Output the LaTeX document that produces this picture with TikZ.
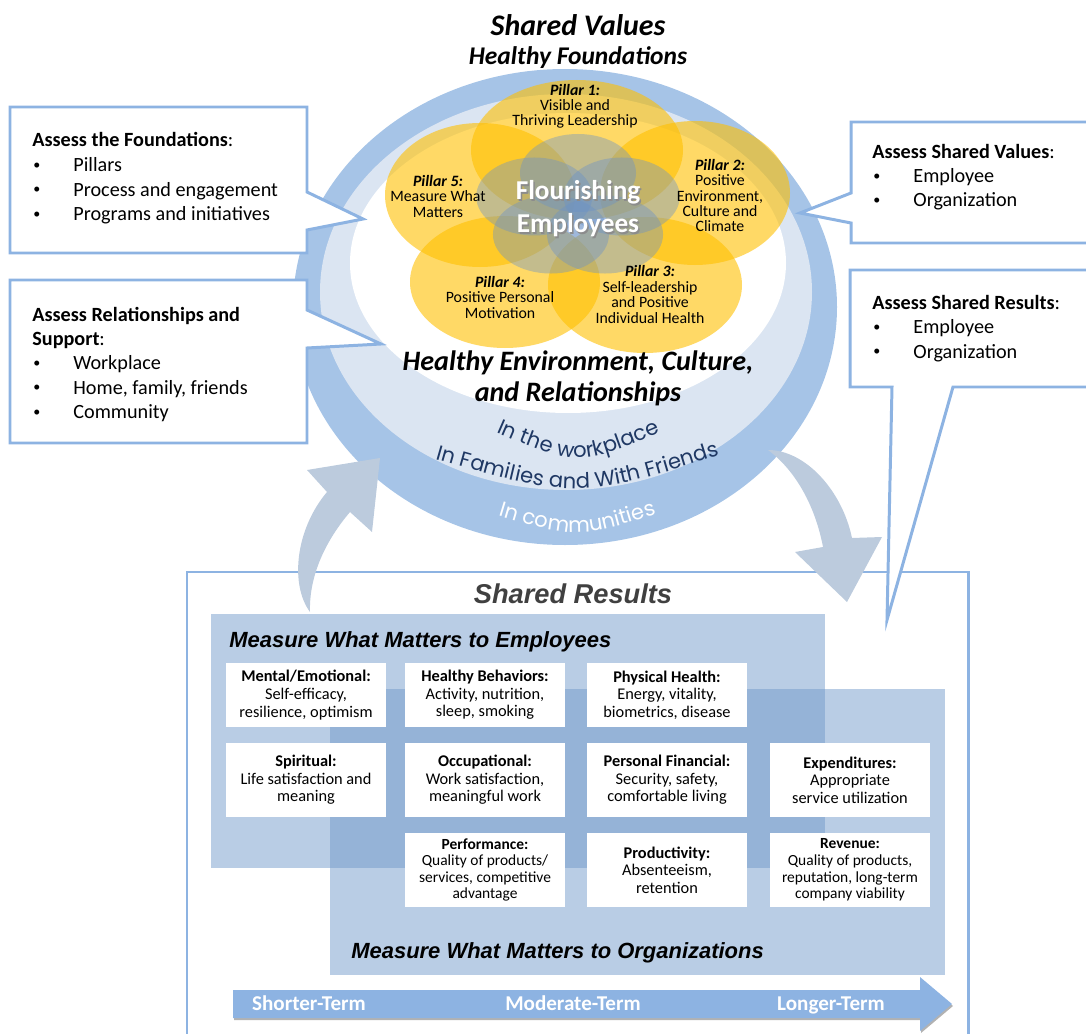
\documentclass[tikz,border=0pt]{standalone}
\usepackage{fontspec}
\setmainfont{Carlito}
\newfontfamily\arialfont{Liberation Sans}
\newfontfamily\ringfont{Poppins}
\usetikzlibrary{decorations.text}

\definecolor{ringdark}{RGB}{166,196,231}
\definecolor{ringlight}{RGB}{219,229,242}
\definecolor{lineblue}{RGB}{141,179,226}
\definecolor{panelblue}{RGB}{185,205,229}
\definecolor{overlapblue}{RGB}{149,179,215}
\definecolor{arrowgrey}{RGB}{188,203,221}
\definecolor{termblue}{RGB}{141,179,226}
\definecolor{navytext}{RGB}{31,56,100}
\definecolor{gold}{RGB}{255,192,0}
\definecolor{coreblue}{RGB}{105,145,200}

\newcommand{\bul}{\makebox[22.8pt][l]{\raisebox{1.2pt}{\fontsize{8}{8}\selectfont\textbullet}}}

\tikzset{
  callout/.style={fill=white, draw=lineblue, line width=1.7pt},
  calltxt/.style={anchor=base west, inner sep=0pt, font=\fontsize{11.5}{14}\selectfont},
  head/.style={anchor=base, inner sep=0pt, align=center},
  pillar/.style={anchor=base, inner sep=0pt, align=center, font=\fontsize{9}{8.8}\selectfont},
  petal/.style={fill=gold, fill opacity=0.6},
  core/.style={fill=coreblue, fill opacity=0.4},
  cell/.style={fill=white, minimum width=3.2cm, inner sep=1pt, align=center, font=\fontsize{9.3}{10}\selectfont},
  paneltxt/.style={anchor=base west, inner sep=0pt, font=\arialfont\fontsize{12.5}{15}\selectfont\bfseries\itshape},
  termtxt/.style={anchor=base, inner sep=0pt, text=white, font=\fontsize{12}{14}\selectfont\bfseries},
  ringtxt/.style={decorate, decoration={text along path, text align=center, text color=#1}},
  frame/.style={draw=lineblue, line width=1.7pt}
}

\begin{document}
\begin{tikzpicture}[x=0.02cm, y=-0.02cm]
\useasboundingbox (0,0) rectangle (1086,1034);
\clip (0,0) rectangle (1086,1034);

% Shared results frame and panels
\draw[frame] (187,1045) -- (187,572) -- (968,572) -- (968,1045);
\node[head, text=black!75, font=\arialfont\fontsize{15.5}{18}\selectfont\bfseries\itshape] (restitle) at (573,603) {Shared Results};
\fill[panelblue] (211,614) rectangle (825,868);
\fill[panelblue] (330,689) rectangle (945,975);
\fill[overlapblue] (330,689) rectangle (825,868);
\node[paneltxt] (emptitle) at (229,647) {Measure What Matters to Employees};
\node[paneltxt] (orgtitle) at (351,958) {Measure What Matters to Organizations};

% Measures
\node[cell, minimum height=1.28cm] (mental) at (306,695) {\textbf{Mental/Emotional:}\\Self-efficacy,\\resilience, optimism};
\node[cell, minimum height=1.28cm] (behav) at (485,695) {\textbf{Healthy Behaviors:}\\Activity, nutrition,\\sleep, smoking};
\node[cell, minimum height=1.28cm] (phys) at (667,695) {\textbf{Physical Health:}\\Energy, vitality,\\biometrics, disease};
\node[cell, minimum height=1.48cm] (spirit) at (306,780) {\textbf{Spiritual:}\\Life satisfaction and\\meaning};
\node[cell, minimum height=1.48cm] (occup) at (485,780) {\textbf{Occupational:}\\Work satisfaction,\\meaningful work};
\node[cell, minimum height=1.48cm] (financ) at (667,780) {\textbf{Personal Financial:}\\Security, safety,\\comfortable living};
\node[cell, minimum height=1.48cm] (expend) at (850,780) {\textbf{Expenditures:}\\Appropriate\\service utilization};
\node[cell, minimum height=1.48cm, font=\fontsize{8.8}{9.4}\selectfont] (perform) at (485,870) {\textbf{Performance:}\\Quality of products/\\services, competitive\\advantage};
\node[cell, minimum height=1.48cm] (product) at (667,870) {\textbf{Productivity:}\\Absenteeism,\\retention};
\node[cell, minimum height=1.48cm, font=\fontsize{8.8}{9.4}\selectfont] (revenue) at (850,870) {\textbf{Revenue:}\\Quality of products,\\reputation, long-term\\company viability};

% Time arrow
\fill[black!30, shift={(1,2)}] (233,990) -- (920,990) -- (920,977) -- (952,1004) -- (920,1031) -- (920,1018) -- (233,1018) -- cycle;
\fill[termblue] (233,990) -- (920,990) -- (920,977) -- (952,1004) -- (920,1031) -- (920,1018) -- (233,1018) -- cycle;
\node[termtxt] (shortterm) at (309,1010) {Shorter-Term};
\node[termtxt] (midterm) at (573,1010) {Moderate-Term};
\node[termtxt] (longterm) at (831,1010) {Longer-Term};

% Rings
\fill[ringdark] (565,307) ellipse [x radius=272, y radius=238];
\fill[ringlight] (566,292) ellipse [x radius=246, y radius=198];
\fill[white] (568,263) ellipse [x radius=218, y radius=150];

% Pillars
\fill[petal] (577,150) ellipse [x radius=106, y radius=70];
\fill[petal] (695,193) ellipse [x radius=95, y radius=72];
\fill[petal] (645,285) ellipse [x radius=97, y radius=68];
\fill[petal] (505,282) ellipse [x radius=95, y radius=66];
\fill[petal] (480,195) ellipse [x radius=95, y radius=72];
\foreach \a in {90,18,162,234,306}
  \fill[core] ({578+46*cos(\a)},{207-34*sin(\a)}) ellipse [x radius=58, y radius=39];

\node[pillar] (pil1) at (575,126) {\textbf{\textit{Pillar 1:}}\\Visible and\\Thriving Leadership};
\node[pillar] (pil2) at (720,232) {\textbf{\textit{Pillar 2:}}\\Positive\\Environment,\\Culture and\\Climate};
\node[pillar] (pil3) at (650,323) {\textbf{\textit{Pillar 3:}}\\Self-leadership\\and Positive\\Individual Health};
\node[pillar] (pil4) at (500,318) {\textbf{\textit{Pillar 4:}}\\Positive Personal\\Motivation};
\node[pillar] (pil5) at (438,217) {\textbf{\textit{Pillar 5:}}\\Measure What\\Matters};

\node[head, text=black!45, font=\fontsize{15.5}{18.8}\selectfont\bfseries] (flourshadow) at (579.5,234.5) {Flourishing\\Employees};
\node[head, text=white, font=\fontsize{15.5}{18.8}\selectfont\bfseries] (flourish) at (578,233) {Flourishing\\Employees};

% Headings
\node[head, font=\fontsize{17}{20}\selectfont\bfseries\itshape] (values) at (578,36) {Shared Values};
\node[head, font=\fontsize{14.5}{17}\selectfont\bfseries\itshape] (foundations) at (578,65) {Healthy Foundations};
\node[head, font=\fontsize{16}{17.6}\selectfont\bfseries\itshape] (environment) at (578,401) {Healthy Environment, Culture,\\and Relationships};

\path[ringtxt=navytext, decoration={text={|\ringfont\fontsize{12}{14}\selectfont|In the workplace}}] (482,426) .. controls (578,468) .. (675,426);
\path[ringtxt=navytext, decoration={text={|\ringfont\fontsize{12}{14}\selectfont|In Families and With Friends}}] (425,456) .. controls (578,500) .. (730,452);
\path[ringtxt=white, decoration={text={|\ringfont\fontsize{12}{14}\selectfont|In communities}}] (480,510) .. controls (578,540) .. (675,508);

% Cycle arrows
\fill[arrowgrey] (310,612) .. controls (290,585) and (295,530) .. (327,492) -- (307,470) -- (380,458) -- (372,532) -- (350,512) .. controls (322,545) and (309,580) .. (310,612) -- cycle;
\fill[arrowgrey] (768,450) .. controls (805,450) and (842,490) .. (852,538) -- (882,537) -- (847,602) -- (795,552) -- (823,547) .. controls (815,505) and (795,470) .. (768,450) -- cycle;

% Callouts
\draw[callout] (10,107) -- (307,107) -- (307,192) -- (363,219) -- (307,230) -- (307,253) -- (10,253) -- cycle;
\node[calltxt] (fndtitle) at (32,147) {\textbf{Assess the Foundations}:};
\foreach \t [count=\i] in {Pillars, Process and engagement, Programs and initiatives}
  \node[calltxt] (fnd\i) at (33,{147+24.5*\i}) {\bul\t};

\draw[callout] (10,280) -- (307,280) -- (307,310) -- (381,344) -- (307,348) -- (307,443) -- (10,443) -- cycle;
\node[calltxt] (reltitle) at (32,321) {\textbf{Assess Relationships and}};
\node[calltxt] (reltitleb) at (32,345) {\textbf{Support}:};
\foreach \t [count=\i] in {Workplace, {Home, family, friends}, Community}
  \node[calltxt] (rel\i) at (33,{345+24.5*\i}) {\bul\t};

\draw[callout] (851,122) -- (1095,122) -- (1095,243) -- (851,243) -- (851,223) -- (800,213) -- (851,193) -- cycle;
\node[calltxt] (valtitle) at (872,158) {\textbf{Assess Shared Values}:};
\foreach \t [count=\i] in {Employee, Organization}
  \node[calltxt] (val\i) at (873,{158+24.5*\i}) {\bul\t};

\draw[callout] (850,270) -- (1095,270) -- (1095,387) -- (953,387) -- (887,620) -- (892,387) -- (850,387) -- cycle;
\node[calltxt] (restitle2) at (872,309) {\textbf{Assess Shared Results}:};
\foreach \t [count=\i] in {Employee, Organization}
  \node[calltxt] (res\i) at (873,{309+24.5*\i}) {\bul\t};
\end{tikzpicture}
\end{document}
